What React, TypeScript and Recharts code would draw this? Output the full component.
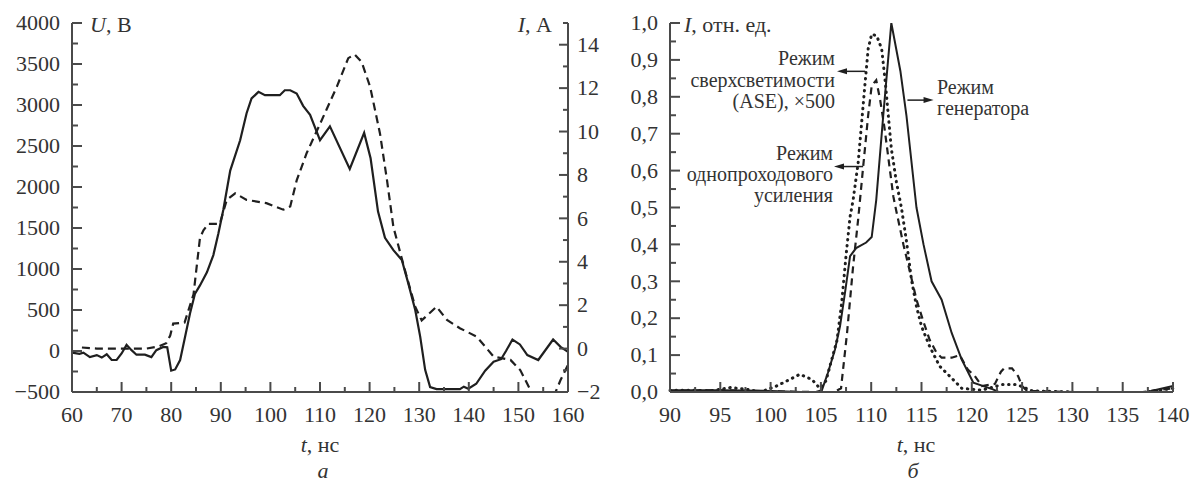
import React from 'react';
import { LineChart, Line, XAxis, YAxis, ReferenceLine } from 'recharts';

const FONT = 'Liberation Serif';
const INK = '#1f1f1f';
const AXIS = '#4a4a4a';
const TXT = '#333';

// ---- panel а: voltage U (solid, left axis) and current I (dashed, right axis)
const uTime = [60, 61.5, 62.3, 63.6, 65, 66, 67, 68, 69, 70, 71, 72, 73, 74.7, 76, 77, 78.4, 79.2, 80, 80.8, 81.8, 82.8, 83.8, 84.8, 85.8, 87.2, 88.5, 89.5, 90.5, 91.9, 93.9, 95.2, 96.2, 97.6, 98.9, 101.9, 102.9, 104, 105.3, 106.6, 108, 110, 112, 116, 118.9, 120.2, 121.7, 123.1, 124.8, 126.5, 127.8, 129.2, 130.2, 131.2, 132.2, 133.5, 138.2, 139, 139.9, 141.5, 143.3, 145, 146.5, 147.5, 148.8, 150.3, 151.8, 154, 157, 158.5, 160];
const uVolt = [-20, -35, -20, -75, -50, -80, -40, -110, -110, -30, 75, 10, -45, -45, -75, 10, 50, 45, -240, -225, -110, 175, 460, 700, 800, 960, 1170, 1430, 1720, 2200, 2570, 2900, 3080, 3160, 3120, 3120, 3180, 3180, 3140, 2990, 2880, 2570, 2740, 2220, 2660, 2350, 1700, 1380, 1230, 1110, 825, 500, 175, -230, -440, -465, -465, -435, -460, -400, -240, -130, -100, 0, 140, 80, -50, -110, 140, 50, -10];

const iTime = [62, 65, 75, 77.5, 79, 79.8, 80.4, 82.7, 84.5, 85.8, 86.5, 87.5, 89.8, 91.2, 92.9, 95.2, 99.2, 102.6, 104, 105.3, 107.3, 109.7, 111.3, 113.4, 115.7, 117, 118.4, 120.1, 122.1, 123.5, 124.8, 126.2, 127.5, 129.2, 130.5, 133.5, 135.6, 138.2, 141.6, 145, 148.4, 150.4, 152.4, 153.5, 156.5, 157.5, 158.5, 160];
const iAmp = [0.05, 0, 0, 0.1, 0.25, 0.6, 1.15, 1.2, 2.5, 5.1, 5.45, 5.75, 5.75, 6.85, 7.15, 6.85, 6.7, 6.4, 6.55, 7.75, 9.0, 10.2, 11.0, 12.07, 13.38, 13.55, 13.2, 12.07, 9.9, 7.77, 5.6, 4.4, 3.3, 1.93, 1.3, 1.93, 1.32, 0.94, 0.55, -0.37, -0.52, -1.0, -1.9, -2.3, -2.3, -2.0, -1.45, -0.75];

const tTicksA = [60, 65, 70, 75, 80, 85, 90, 95, 100, 105, 110, 115, 120, 125, 130, 135, 140, 145, 150, 155, 160];
const uTicks = [-500, -250, 0, 250, 500, 750, 1000, 1250, 1500, 1750, 2000, 2250, 2500, 2750, 3000, 3250, 3500, 3750, 4000];
const iTicks = [-2, -1, 0, 1, 2, 3, 4, 5, 6, 7, 8, 9, 10, 11, 12, 13, 14, 15];

// ---- panel б: normalized intensity for three regimes
const genTime = [90, 95, 100, 103, 104.5, 105.1, 105.7, 106.4, 106.9, 107.4, 107.9, 108.5, 109.5, 110.05, 110.5, 111.2, 112, 112.9, 113.5, 114.5, 115.2, 116, 117, 118, 119, 120.15, 122.1, 123.5, 125.5, 130, 135, 137.4, 140];
const genVal = [0.005, 0.005, 0.003, 0, 0, 0.005, 0.052, 0.115, 0.178, 0.27, 0.368, 0.39, 0.405, 0.42, 0.52, 0.75, 1.0, 0.87, 0.75, 0.5, 0.4, 0.3, 0.25, 0.16, 0.088, 0.025, 0.007, -0.01, -0.008, -0.005, -0.003, 0, 0.016];

const ampTime = [90, 95, 100, 104, 106, 107, 107.6, 108.2, 108.7, 109.2, 109.7, 110.05, 110.5, 110.9, 111.3, 112.2, 112.5, 113.2, 113.9, 114.5, 115.2, 115.8, 116.5, 117, 118, 118.8, 119.6, 120.3, 121, 122.3, 122.9, 123.2, 124, 124.6, 125, 125.5, 130, 132, 135.7, 137, 140];
const ampVal = [0.003, 0.005, 0.002, 0, -0.005, 0.01, 0.16, 0.34, 0.467, 0.61, 0.75, 0.83, 0.845, 0.79, 0.72, 0.53, 0.49, 0.4, 0.32, 0.25, 0.19, 0.142, 0.106, 0.093, 0.093, 0.1, 0.061, 0.043, 0.016, 0.022, 0.055, 0.064, 0.064, 0.043, 0.016, 0.003, 0, -0.008, -0.01, 0, 0.01];

const aseTime = [90, 92, 94, 96, 97.5, 99, 100.5, 101.9, 102.9, 104.1, 104.9, 105.5, 106.6, 107.06, 107.5, 107.9, 108.2, 108.7, 109.05, 109.4, 109.7, 110.05, 110.55, 111.04, 111.4, 111.7, 112, 112.5, 113, 113.5, 114, 114.5, 115, 115.8, 116.8, 117.8, 119, 121, 123, 124.5, 126, 130, 131.7, 134.7, 136, 140];
const aseVal = [0.005, 0.005, 0.003, 0.012, 0.008, 0, 0.015, 0.034, 0.048, 0.034, 0.01, 0.03, 0.14, 0.24, 0.37, 0.475, 0.52, 0.62, 0.73, 0.84, 0.93, 0.97, 0.965, 0.93, 0.84, 0.75, 0.66, 0.57, 0.5, 0.41, 0.305, 0.232, 0.178, 0.124, 0.07, 0.043, 0.01, 0.005, 0.02, 0.02, 0.003, 0, -0.02, -0.02, -0.005, 0.01];

const tTicksB = [90, 92.5, 95, 97.5, 100, 102.5, 105, 107.5, 110, 112.5, 115, 117.5, 120, 122.5, 125, 127.5, 130, 132.5, 135, 137.5, 140];
const relTicks = [0, 0.05, 0.1, 0.15, 0.2, 0.25, 0.3, 0.35, 0.4, 0.45, 0.5, 0.55, 0.6, 0.65, 0.7, 0.75, 0.8, 0.85, 0.9, 0.95, 1.0];

const zip = (ts: number[], vs: number[]) => ts.map((t, k) => ({ t, v: vs[k] }));
const uData = zip(uTime, uVolt);
const iData = zip(iTime, iAmp);
const genData = zip(genTime, genVal);
const ampData = zip(ampTime, ampVal);
const aseData = zip(aseTime, aseVal);

const neg = (s: string) => s.replace('-', '\u2212');

const BottomTick = (step: number) => (p: any) => {
  const { x, y, payload } = p;
  const v = payload.value;
  const major = Math.abs(v / step - Math.round(v / step)) < 1e-6;
  return (
    <g>
      <line x1={x} y1={y} x2={x} y2={y - (major ? 10 : 5)} stroke={AXIS} strokeWidth={2} />
      {major && (
        <text x={x} y={y + 30} textAnchor="middle" fontFamily="Liberation Serif" fontSize={22} fill={TXT}>
          {v}
        </text>
      )}
    </g>
  );
};

const UTick = (p: any) => {
  const { x, y, payload } = p;
  const v = payload.value;
  const major = v % 500 === 0;
  return (
    <g>
      <line x1={x} y1={y} x2={x + (major ? 10 : 6)} y2={y} stroke={AXIS} strokeWidth={2} />
      {major && (
        <text x={x - 12} y={y} dy="0.33em" textAnchor="end" fontFamily="Liberation Serif" fontSize={22} fill={TXT}>
          {neg(String(v))}
        </text>
      )}
    </g>
  );
};

const ITick = (p: any) => {
  const { x, y, payload } = p;
  const v = payload.value;
  const major = v % 2 === 0;
  return (
    <g>
      <line x1={x} y1={y} x2={x - (major ? 9 : 5)} y2={y} stroke={AXIS} strokeWidth={2} />
      {major && v < 15 && (
        <text x={x + 9} y={y} dy="0.33em" textAnchor="start" fontFamily="Liberation Serif" fontSize={22} fill={TXT}>
          {neg(String(v))}
        </text>
      )}
    </g>
  );
};

const RelTick = (p: any) => {
  const { x, y, payload } = p;
  const v = payload.value;
  const major = Math.abs(v * 10 - Math.round(v * 10)) < 1e-6;
  return (
    <g>
      <line x1={x} y1={y} x2={x + (major ? 10 : 6)} y2={y} stroke={AXIS} strokeWidth={2} />
      {major && (
        <text x={x - 12} y={y} dy="0.33em" textAnchor="end" fontFamily="Liberation Serif" fontSize={22} fill={TXT}>
          {v.toFixed(1).replace('.', ',')}
        </text>
      )}
    </g>
  );
};

const Arrow = (p: any) => {
  const { x1, y1, x2, y2 } = p;
  const dir = Math.sign(x2 - x1) || 1;
  return (
    <g>
      <line x1={x1} y1={y1} x2={x2 - dir * 6} y2={y2} stroke={INK} strokeWidth={1.5} />
      <polygon points={`${x2},${y2} ${x2 - dir * 10},${y2 - 3} ${x2 - dir * 10},${y2 + 3}`} fill={INK} />
    </g>
  );
};

// text placed by its left / right / centre edge and vertical middle
const Txt = ({ x, y, align = 'left', size = 22, children }: any) => {
  const left = align === 'left' ? x : undefined;
  const right = align === 'right' ? 1192 - x : undefined;
  const cx = align === 'center' ? x - 100 : left;
  return (
    <div
      style={{
        position: 'absolute',
        left: align === 'center' ? cx : left,
        right,
        width: align === 'center' ? 200 : undefined,
        textAlign: align,
        top: y - size * 0.6,
        fontFamily: 'Liberation Serif',
        fontSize: size,
        lineHeight: `${Math.round(size * 1.2)}px`,
        color: TXT,
        whiteSpace: 'nowrap',
      }}
    >
      {children}
    </div>
  );
};

const axisLine = { stroke: AXIS, strokeWidth: 2 };

export default function App() {
  return (
    <div style={{ position: 'absolute', left: 0, top: 0, width: 1192, height: 482, background: '#fff', fontFamily: FONT }}>
      <div style={{ position: 'absolute', left: 0, top: 0 }}>
        <LineChart width={620} height={482} margin={{ top: 23, right: 0, bottom: 0, left: 0 }}>
          <XAxis
            dataKey="t"
            type="number"
            domain={[60, 160]}
            ticks={tTicksA}
            interval={0}
            height={90}
            tickSize={0}
            tickMargin={0}
            tickLine={false}
            axisLine={axisLine}
            tick={BottomTick(10)}
            allowDuplicatedCategory={false}
          />
          <YAxis
            yAxisId="u"
            type="number"
            domain={[-500, 4000]}
            ticks={uTicks}
            interval={0}
            width={72}
            tickSize={0}
            tickMargin={0}
            tickLine={false}
            axisLine={axisLine}
            tick={UTick}
          />
          <YAxis
            yAxisId="i"
            orientation="right"
            type="number"
            domain={[-2, 15]}
            ticks={iTicks}
            interval={0}
            width={52}
            tickSize={0}
            tickMargin={0}
            tickLine={false}
            axisLine={axisLine}
            tick={ITick}
            allowDataOverflow
          />
          <Line yAxisId="u" data={uData} dataKey="v" type="linear" stroke={INK} strokeWidth={2.2} dot={false} activeDot={false} isAnimationActive={false} />
          <Line yAxisId="i" data={iData} dataKey="v" type="linear" stroke={INK} strokeWidth={2.2} strokeDasharray="8 5" dot={false} activeDot={false} isAnimationActive={false} />
        </LineChart>
      </div>

      <div style={{ position: 'absolute', left: 590, top: 0 }}>
        <LineChart width={600} height={482} margin={{ top: 23, right: 17, bottom: 0, left: 0 }}>
          <XAxis
            dataKey="t"
            type="number"
            domain={[90, 140]}
            ticks={tTicksB}
            interval={0}
            height={90}
            tickSize={0}
            tickMargin={0}
            tickLine={false}
            axisLine={axisLine}
            tick={BottomTick(5)}
            allowDuplicatedCategory={false}
          />
          <YAxis
            type="number"
            domain={[0, 1]}
            ticks={relTicks}
            interval={0}
            width={80}
            tickSize={0}
            tickMargin={0}
            tickLine={false}
            axisLine={axisLine}
            tick={RelTick}
            allowDataOverflow
          />
          <Line data={aseData} dataKey="v" type="linear" stroke={INK} strokeWidth={3} strokeDasharray="0.5 5.5" strokeLinecap="round" dot={false} activeDot={false} isAnimationActive={false} />
          <Line data={ampData} dataKey="v" type="linear" stroke={INK} strokeWidth={2.2} strokeDasharray="7 5" dot={false} activeDot={false} isAnimationActive={false} />
          <Line data={genData} dataKey="v" type="linear" stroke={INK} strokeWidth={2} dot={false} activeDot={false} isAnimationActive={false} />
          <ReferenceLine segment={[{ x: 109.4, y: 0.869 }, { x: 106.6, y: 0.869 }]} shape={Arrow} />
          <ReferenceLine segment={[{ x: 109.2, y: 0.611 }, { x: 106.3, y: 0.611 }]} shape={Arrow} />
          <ReferenceLine segment={[{ x: 113.6, y: 0.791 }, { x: 116.2, y: 0.791 }]} shape={Arrow} />
        </LineChart>
      </div>

      <Txt x={90} y={25}><i>U</i>, В</Txt>
      <Txt x={552} y={25} align="right"><i>I</i>, А</Txt>
      <Txt x={320} y={445} align="center"><i>t</i>, нс</Txt>
      <Txt x={323} y={471} align="center"><i>а</i></Txt>

      <Txt x={684} y={25}><i>I</i>, отн. ед.</Txt>
      <Txt x={916} y={445} align="center"><i>t</i>, нс</Txt>
      <Txt x={913} y={471} align="center"><i>б</i></Txt>

      <Txt x={835} y={58} align="right" size={20}>Режим</Txt>
      <Txt x={835} y={80} align="right" size={20}>сверхсветимости</Txt>
      <Txt x={835} y={101} align="right" size={20}>(ASE), ×500</Txt>
      <Txt x={833} y={153} align="right" size={20}>Режим</Txt>
      <Txt x={833} y={174} align="right" size={20}>однопроходового</Txt>
      <Txt x={833} y={195} align="right" size={20}>усиления</Txt>
      <Txt x={937} y={87} size={20}>Режим</Txt>
      <Txt x={937} y={108} size={20}>генератора</Txt>
    </div>
  );
}
